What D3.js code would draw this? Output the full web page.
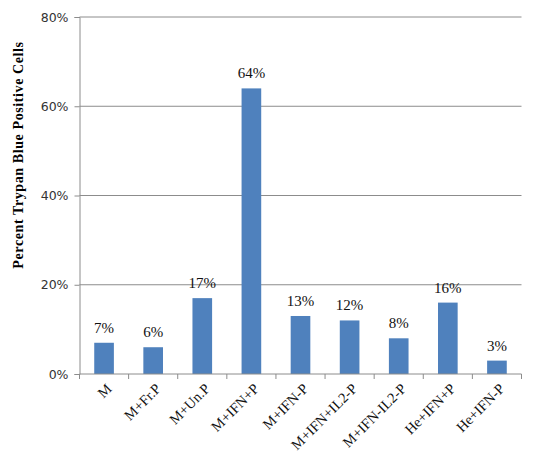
<!DOCTYPE html>
<html><head><meta charset="utf-8">
<script src="https://cdn.jsdelivr.net/npm/d3@7/dist/d3.min.js"></script>
<style>body{margin:0;background:#fff}</style>
</head><body><svg id="c" width="540" height="465"></svg>
<script>
const categories = ["M","M+Fr.P","M+Un.P","M+IFN+P","M+IFN-P","M+IFN+IL2-P","M+IFN-IL2-P","He+IFN+P","He+IFN-P"];
const values = [7,6,17,64,13,12,8,16,3];
const yTicks = [0,20,40,60,80];
const yTitle = "Percent Trypan Blue Positive Cells";

const svg = d3.select("#c");
const m = {l:79.5, r:521.5, t:17, b:374};
const x = d3.scaleBand().domain(categories).range([m.l, m.r]).paddingInner(0.6).paddingOuter(0.3);
const xb = d3.scaleBand().domain(categories).range([m.l, m.r]);
const y = d3.scaleLinear().domain([0,80]).range([m.b, m.t]);

// gridlines
svg.append("g").selectAll("line").data(yTicks.filter(d=>d>0)).join("line")
  .attr("x1", m.l).attr("x2", m.r).attr("y1", d=>y(d)).attr("y2", d=>y(d))
  .attr("stroke","#8c8c8c").attr("stroke-width",1);

// bars
svg.append("g").selectAll("rect").data(values).join("rect")
  .attr("x",(d,i)=>x(categories[i])).attr("width",x.bandwidth())
  .attr("y",d=>y(d)).attr("height",d=>y(0)-y(d))
  .attr("fill","#4F81BD");

// y axis
const ya = svg.append("g").attr("transform",`translate(${m.l},0)`)
  .call(d3.axisLeft(y).tickValues(yTicks).tickFormat(d=>d+"%").tickSize(5).tickPadding(6));
ya.select(".domain").attr("stroke","#8c8c8c");
ya.selectAll(".tick line").attr("stroke","#8c8c8c");
ya.selectAll(".tick text").attr("font-family","'DejaVu Sans', sans-serif").attr("font-size",12.5).attr("fill","#333");

// x axis line + ticks at boundaries
svg.append("line").attr("x1",m.l).attr("x2",m.r).attr("y1",m.b).attr("y2",m.b).attr("stroke","#8c8c8c");
const bounds = categories.map(c=>xb(c)).concat([m.r]);
svg.append("g").selectAll("line").data(bounds).join("line")
  .attr("x1",d=>d).attr("x2",d=>d).attr("y1",m.b).attr("y2",m.b+5).attr("stroke","#8c8c8c");

// category labels
svg.append("g").selectAll("text").data(categories).join("text")
  .attr("transform",c=>`translate(${xb(c)+xb.bandwidth()/2+5},${m.b+12}) rotate(-45)`)
  .attr("text-anchor","end").attr("dy","0.35em")
  .attr("font-family","'Liberation Serif', serif").attr("font-size",14.5).attr("fill","#111")
  .text(d=>d);

// data labels
svg.append("g").selectAll("text").data(values).join("text")
  .attr("x",(d,i)=>x(categories[i])+x.bandwidth()/2).attr("y",d=>y(d)-10)
  .attr("text-anchor","middle")
  .attr("font-family","'Liberation Serif', serif").attr("font-size",15).attr("fill","#111")
  .text(d=>d+"%");

// y title
svg.append("text").attr("transform",`translate(23,155) rotate(-90)`)
  .attr("text-anchor","middle").attr("font-family","'Liberation Serif', serif")
  .attr("font-weight","bold").attr("font-size",14).attr("letter-spacing",0.6).attr("fill","#000").text(yTitle);
</script></body></html>
